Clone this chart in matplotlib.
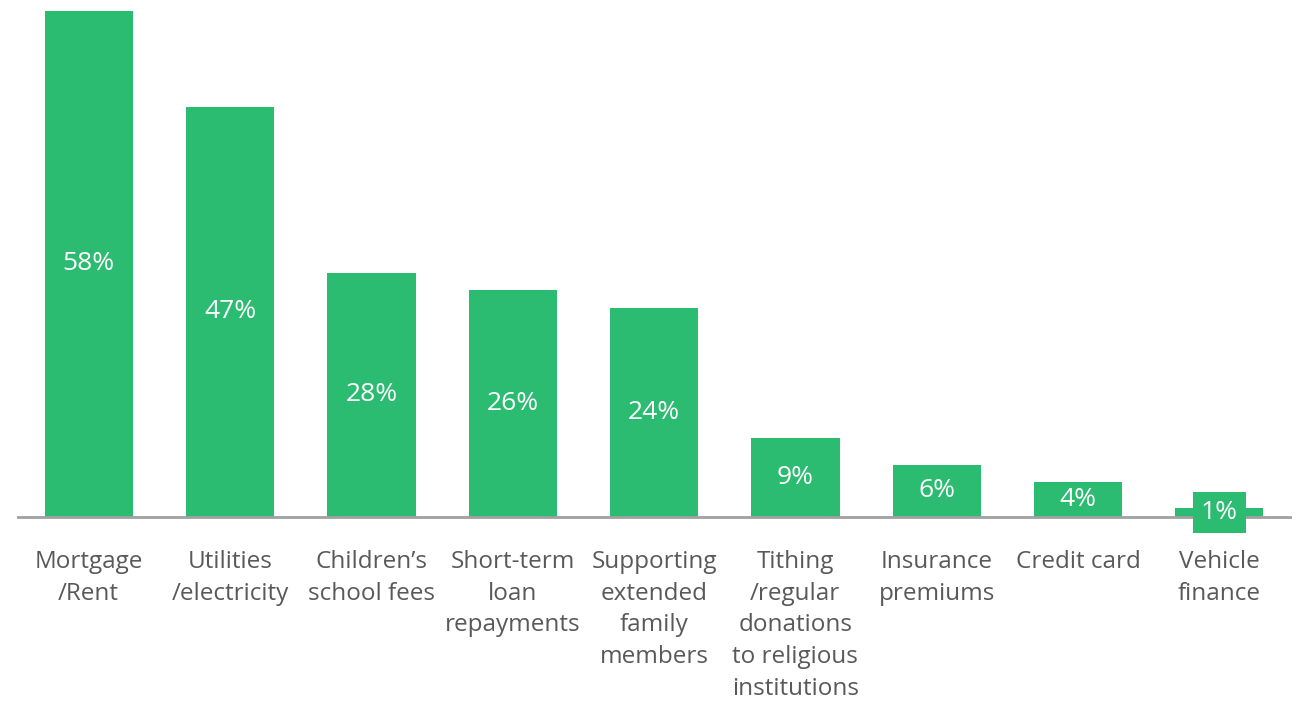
import matplotlib.pyplot as plt

categories = ["Mortgage\n/Rent", "Utilities\n/electricity", "Children\u2019s\nschool fees",
              "Short-term\nloan\nrepayments", "Supporting\nextended\nfamily\nmembers",
              "Tithing\n/regular\ndonations\nto religious\ninstitutions",
              "Insurance\npremiums", "Credit card", "Vehicle\nfinance"]
values = [58, 47, 28, 26, 24, 9, 6, 4, 1]

green = "#2BBB71"
grey = "#595959"

plt.rcParams['font.family'] = ['Open Sans', 'DejaVu Sans']

fig = plt.figure(figsize=(12.97, 7.04), dpi=100)
ax = fig.add_axes([0.0139, 0.2656, 0.9807, 0.7188])

x = list(range(len(values)))
bars = ax.bar(x, values, width=0.625, color=green)

for i, v in enumerate(values):
    if v < 3:
        ax.text(i, v / 2, "{}%".format(v), ha="center", va="center", fontsize=19, color="white",
                bbox=dict(boxstyle="square,pad=0.3", fc=green, ec="none"))
    else:
        ax.text(i, v / 2, "{}%".format(v), ha="center", va="center", fontsize=19, color="white")

ax.set_xlim(-0.5, 8.5)
ax.set_ylim(0, 58)
for s in ["top", "right", "left"]:
    ax.spines[s].set_visible(False)
ax.spines["bottom"].set_color("#A0A0A0")
ax.spines["bottom"].set_linewidth(2)
ax.set_yticks([])
ax.set_xticks(x)
ax.set_xticklabels(categories, fontsize=17.5, color=grey, linespacing=1.42, va="top")
ax.tick_params(axis="x", length=0, pad=24)

fig.savefig("out.png", dpi=100)
